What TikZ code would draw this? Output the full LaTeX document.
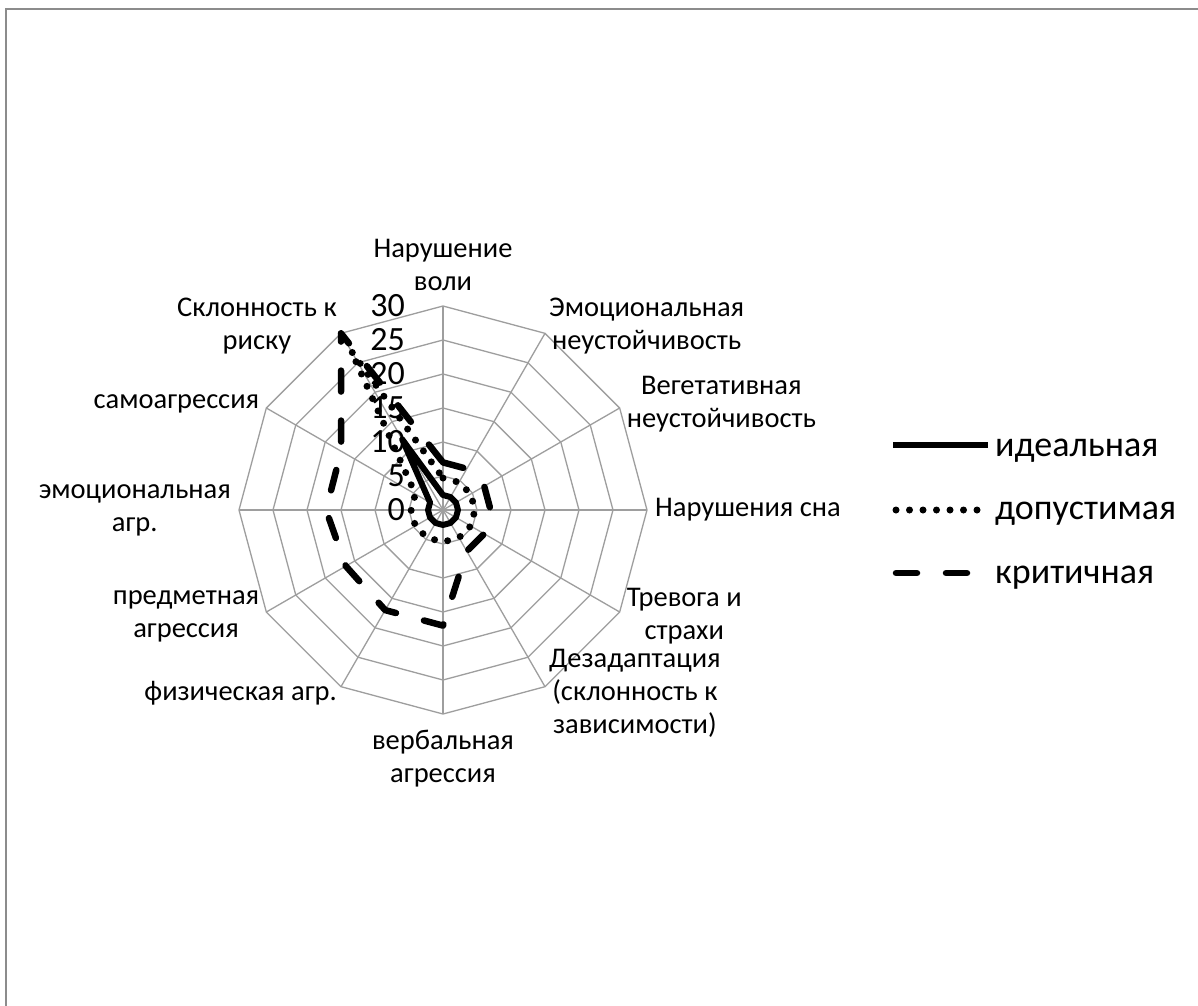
\documentclass[tikz,border=0pt]{standalone}
\usepackage{fontspec}
\setmainfont{Carlito}
\usepackage{tikz}

\tikzset{
	gridline/.style={draw=black!38, line width=1.3pt},
	lbl/.style={inner sep=0pt, align=center, font=\fontsize{28.5}{33}\selectfont},
	ticklbl/.style={inner sep=0pt, anchor=east, font=\fontsize{34}{34}\selectfont},
	legtext/.style={inner sep=0pt, anchor=base west, font=\fontsize{36}{40}\selectfont},
	idealline/.style={line width=6pt, line join=round},
	allowline/.style={line width=7pt, line cap=round, dash pattern=on 0pt off 13.5pt},
	critline/.style={line width=6.5pt, line cap=round, line join=round, dash pattern=on 21pt off 29pt}
}
\newcommand{\upx}{6.8}

\begin{document}
\begin{tikzpicture}[x=1pt, y=1pt]
	\useasboundingbox (-443,-495) rectangle (755,510);
	\fill[white] (-443,-495) rectangle (755,510);
	\clip (-443,-495) rectangle (755,510);
	\draw[black!45, line width=2pt] (-437,500.5) rectangle (800,-600);

	\foreach \r in {5,10,...,30}
	\draw[gridline] (90:\r*\upx) \foreach \a in {60,30,...,-240} {-- (\a:\r*\upx)} -- cycle;
	\foreach \a in {0,30,...,330}
	\draw[gridline] (0,0) -- (\a:30*\upx);

	\foreach \v in {0,5,...,30}
	\node[ticklbl] (tick\v) at (-38,\v*\upx) {\v};

	\node[lbl, anchor=south] (nvoli) at (90:219) {Нарушение\\воли};
	\node[lbl, anchor=west] (emneust) at (60:212) {Эмоциональная\\неустойчивость};
	\node[lbl, anchor=west] (vegneust) at (30:212) {Вегетативная\\неустойчивость};
	\node[lbl, anchor=west] (nson) at (0:212) {Нарушения сна};
	\node[lbl, anchor=west] (trevoga) at (-30:212) {Тревога и\\страхи};
	\node[lbl, anchor=west] (dezad) at (-60:212) {Дезадаптация\\(склонность к\\зависимости)};
	\node[lbl, anchor=north] (verbagr) at (-90:220) {вербальная\\агрессия};
	\node[lbl, anchor=east] (fizagr) at (-120:212) {физическая агр.};
	\node[lbl, anchor=east] (predagr) at (-150:212) {предметная\\агрессия};
	\node[lbl, anchor=east] (emagr) at (180:212) {эмоциональная\\агр.};
	\node[lbl, anchor=east] (samoagr) at (150:212) {самоагрессия};
	\node[lbl, anchor=east] (risk) at (120:212) {Склонность к\\риску};

	\draw[critline] (90:7*\upx) \foreach \a/\v in {60/7,30/7,0/7,-30/7,-60/7,-90/17,-120/17,-150/16.5,-180/17.2,-210/17.3,-240/30} {-- (\a:\v*\upx)} -- cycle;
	\draw[allowline] (90:4.7*\upx) \foreach \a/\v in {60/4.7,30/4.7,0/4.7,-30/4.7,-60/4.7,-90/4.7,-120/4.7,-150/4.7,-180/4.7,-210/4.7,-240/27} {-- (\a:\v*\upx)} -- cycle;
	\draw[idealline] (90:2.2*\upx) \foreach \a/\v in {60/2.2,30/2.2,0/2.2,-30/2.2,-60/2.2,-90/2.2,-120/2.2,-150/2.2,-180/2.2,-210/2.2,-240/12} {-- (\a:\v*\upx)} -- cycle;

	\draw[idealline] (450,65) -- (545,65);
	\node[legtext] (legideal) at (552,54) {идеальная};
	\draw[allowline] (453,0) -- (545,0);
	\node[legtext] (legallow) at (552,-9) {допустимая};
	\draw[critline] (453,-63) -- (530,-63);
	\node[legtext] (legcrit) at (552,-73) {критичная};
\end{tikzpicture}
\end{document}
